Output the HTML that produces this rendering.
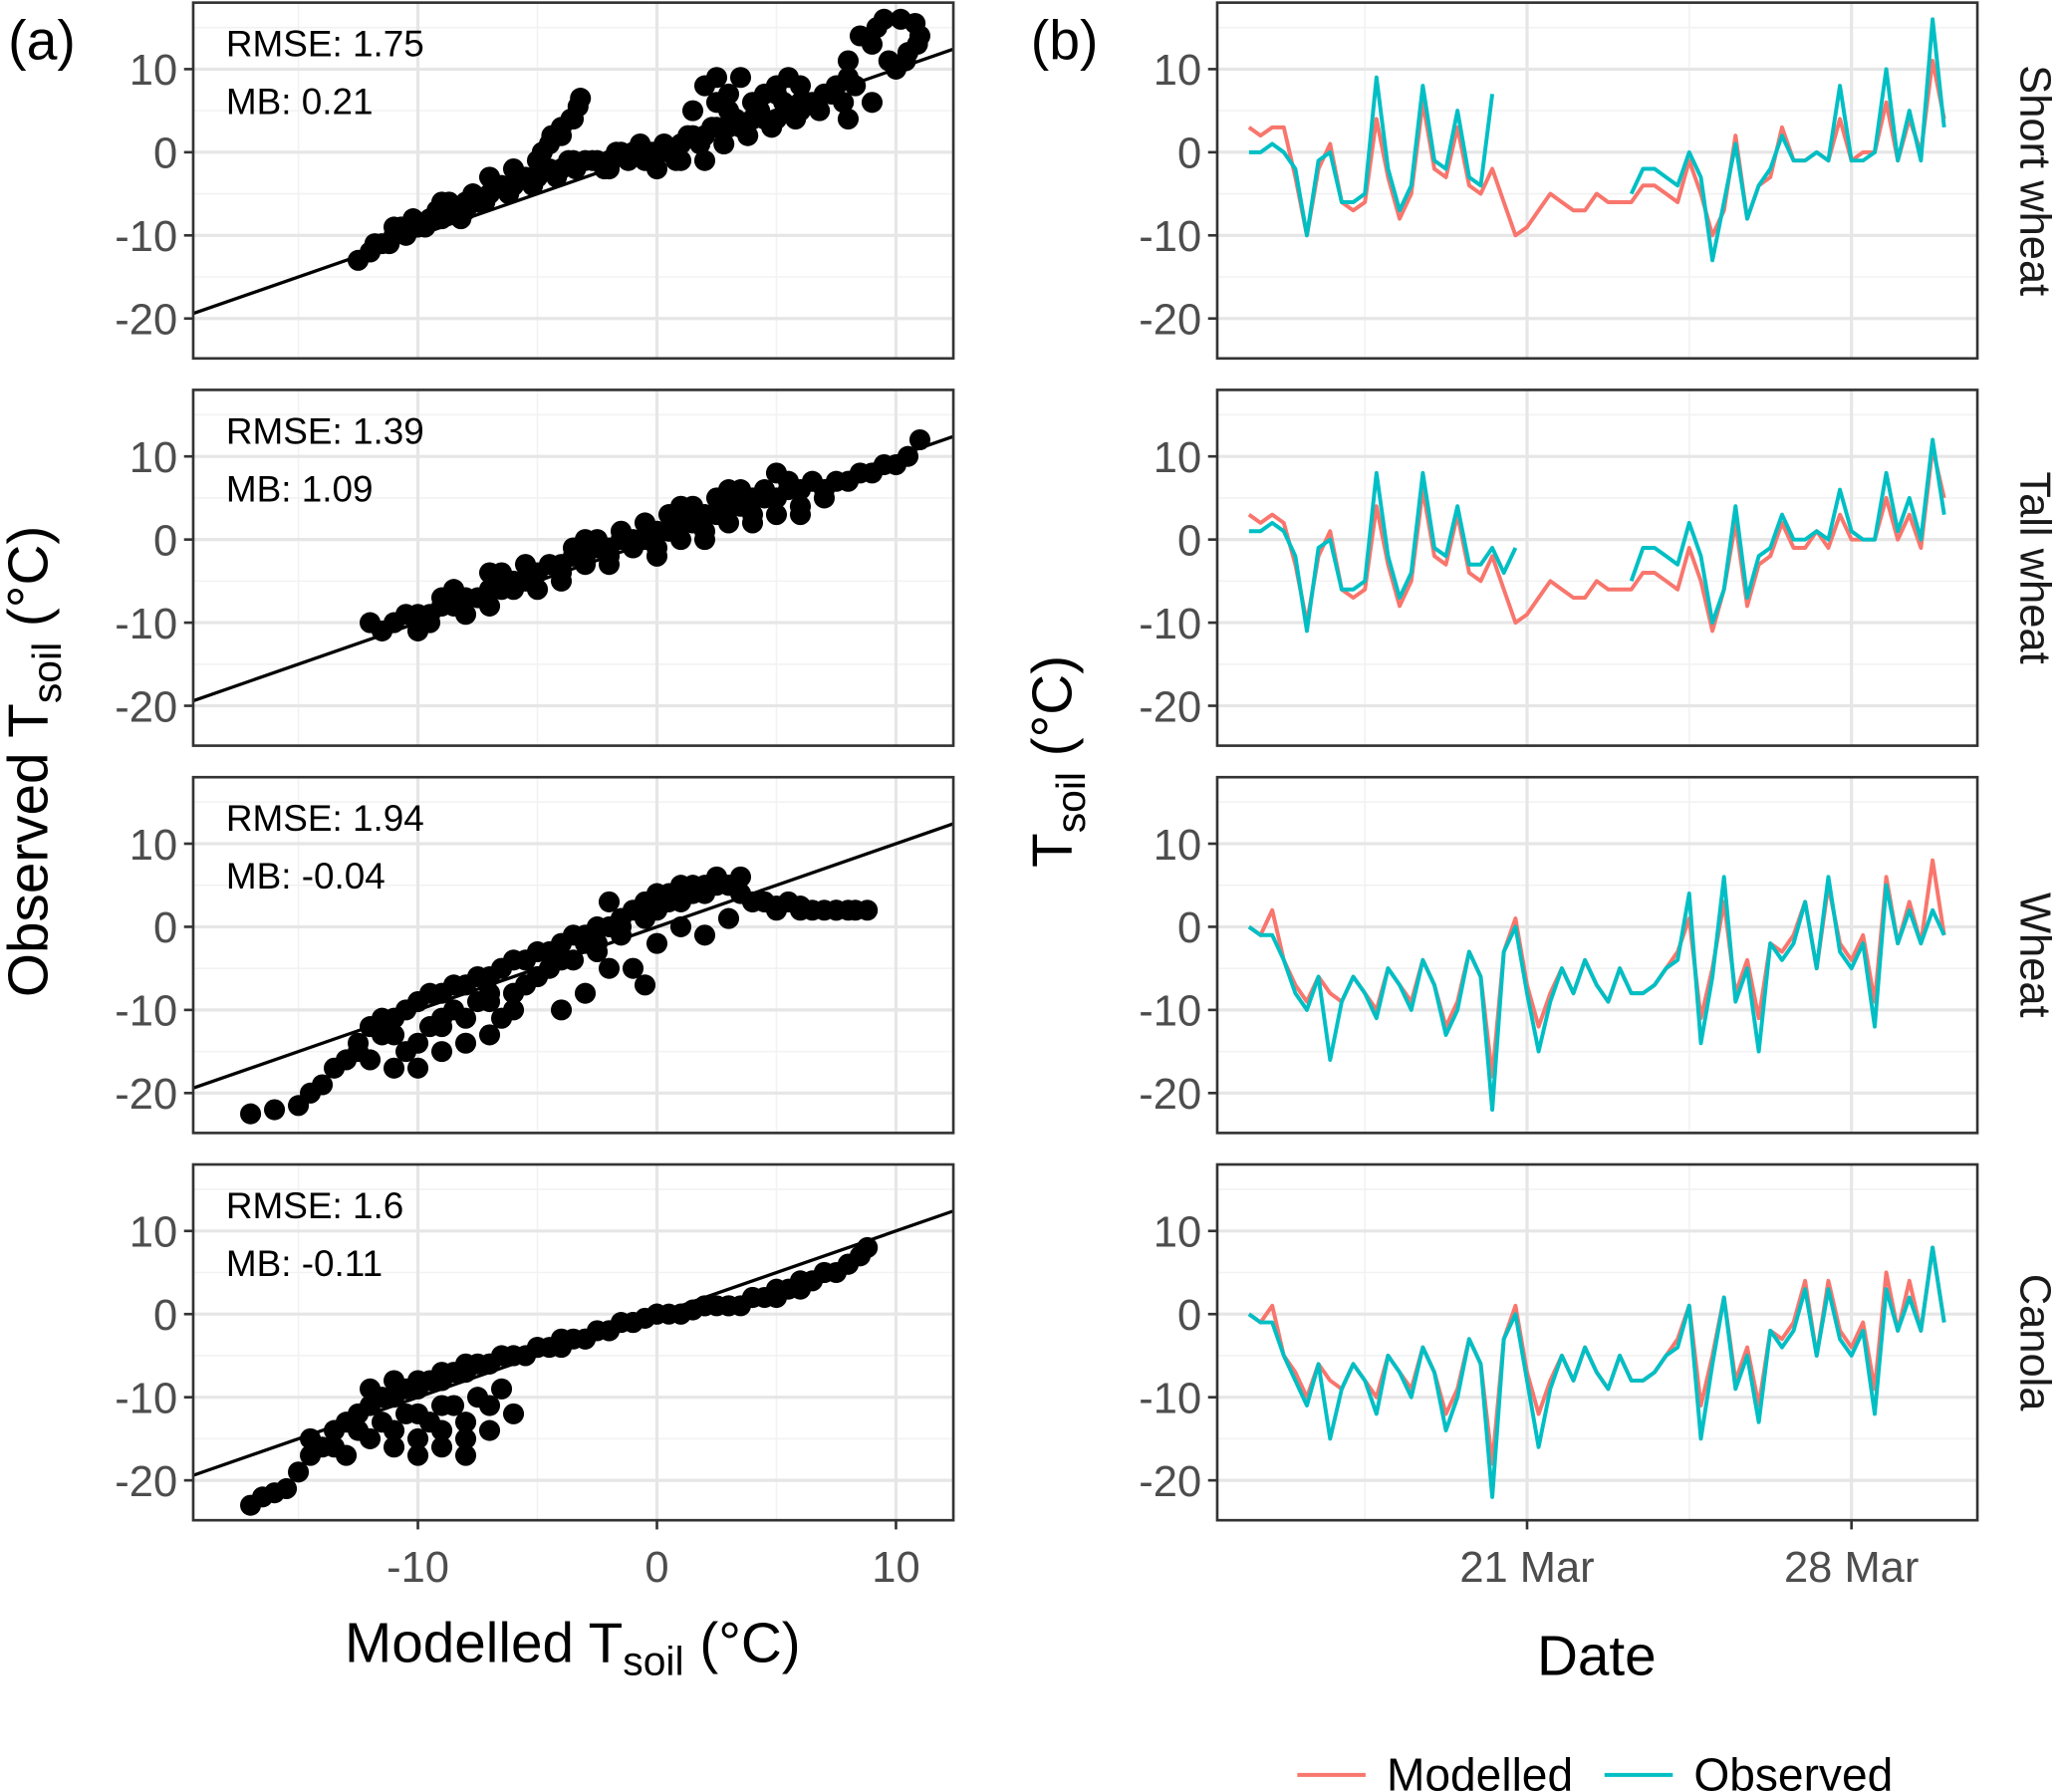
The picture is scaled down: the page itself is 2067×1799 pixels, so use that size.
<!DOCTYPE html>
<html><head><meta charset="utf-8"><style>
html,body{margin:0;padding:0;background:#fff}
svg{display:block}
text{font-family:"Liberation Sans",Arial,sans-serif}
</style></head><body>
<svg id="chart" width="2067" height="1799" viewBox="0 0 1568 1365" xmlns="http://www.w3.org/2000/svg">
<rect width="1568" height="1365" fill="#fff"/>
</svg>
<script>
// ---- data ----
const panelNames = ["Short wheat","Tall wheat","Wheat","Canola"];
const rmseLabels = ["RMSE: 1.75","RMSE: 1.39","RMSE: 1.94","RMSE: 1.6"];
const mbLabels = ["MB: 0.21","MB: 1.09","MB: -0.04","MB: -0.11"];
const yTicks = [10,0,-10,-20];
const xTicksLeft = [-10,0,10];
const dateTickDays = [21,28];
const dateTickLabels = ["21 Mar","28 Mar"];
const startDay = 15, stepDay = 0.25;

const sc1x = [-12.5,-12,-11.5,-11,-10.5,-10,-9.5,-9,-8.5,-8,-7.5,-7,-6.5,-6,-5.5,-5,-4.5,-4,-3.5,-3,-2.5,-2,-1.5,-1,-0.5,0,0.5,1,1.5,2,2.5,3,3.5,4,4.5,5,5.5,6,6.5,7,7.5,8,-11,-9,-8,-7,-6,-5,-4.5,-4,-3.5,-3.2,-2,0,1,2,2.5,3,4,5,6,7,8,9,10,10.5,11,8.5,9.5,10.8,8,1.5,2.5,
 -11.8,-11.2,-10.7,-10.2,-9.7,-9.2,-8.7,-8.2,-7.7,-7.2,-6.7,-6.2,-5.7,-5.2,-4.7,-4.2,-3.7,-3.4,-4.8,-4.4,-4,-3.6,-3.3,-2.7,-2.2,-1.7,-1.2,-0.7,-0.2,0.3,0.8,1.3,1.8,2.3,2.8,3.3,3.8,4.3,4.8,5.3,5.8,6.3,6.8,7.3,7.8,8.3,3,4,5,6,2,3.5,4.5,5.5,9,9.2,10.2,10.9,10.4,9.7];
const sc1y = [-13,-12,-11,-10,-10,-9,-8,-8,-7,-6,-6,-5,-4,-4,-3,-3,-2,-2,-1,-1,-1,-1,0,0,-1,0,0,1,2,2,3,3,3,4,4,4,5,5,6,7,8,9,-9,-6,-7,-3,-2,-1,1,2,4,6.5,-2,-2,-1,-1,6,7,6,8,6,7,4,6,10,12,14,14,16,15.5,11,5,9,
 -11,-11,-9,-8,-9,-7,-6,-8,-5,-6,-4,-5,-3,-4,-2,-3,-1,-2,0,2,3,4,5.5,-1,-2,0,-1,1,0,1,-1,2,1,3,1,4,2,5,3,6,4,6,5,7,6,8,5,4,7,8,8,9,7,9,13,15,16,13,11,11];
const sc2x = [-12,-11,-10,-9.5,-9,-8,-7.5,-7,-6,-5.5,-5,-4.5,-4,-3.5,-3,-2.5,-2,-1.5,-1,-0.5,0,0.5,1,1.5,2,2.5,3,3.5,4,4.5,5,5.5,6,7,8,9,10,10.5,11,-10,-8,-6,-4,-2,0,2,4,6,-9,-7,-3,1,3,5,
 -11.5,-10.5,-8.5,-7,-6.5,-5,-4,-3,-2,-1,0,1,2,3,4,5,6,7,-9.5,-8.5,-6.5,-5.5,-3.5,-2.5,-1.5,-0.5,0.5,1.5,2.5,3.5,4.5,5.5,6.5,7.5,8.5,9.5];
const sc2y = [-10,-10,-9,-9,-8,-7,-7,-6,-5,-5,-4,-3,-3,-2,-2,-1,-1,0,0,0,1,1,2,2,3,3,4,4,5,5,5,6,6,6,7,8,9,10,12,-11,-9,-6,-5,-3,-2,0,2,3,-7,-4,0,4,6,8,
 -11,-9,-8,-8,-6,-6,-4,-3,-2,-1,-1,0,1,2,3,3,4,5,-10,-6,-4,-3,-1,0,1,2,3,4,5,6,6,7,7,7,8,9];
const sc3x = [-17,-16,-15,-14.5,-14,-13.5,-13,-12.5,-12,-11.5,-11,-10.5,-10,-9.5,-9,-8.5,-8,-7.5,-7,-6.5,-6,-5.5,-5,-4.5,-4,-3.5,-3,-2.5,-2,-1.5,-1,-0.5,0,0.5,1,1.5,2,2.5,3,3.5,4,5,6,7,8,8.8,-12,-10,-9,-8,-7,-6,-4,-3,-2,-1,0,1,2,3,4,-11,-9,-7,-5,-3,-2,-0.5,
 -12.5,-11.5,-10.5,-9.5,-8.5,-7.5,-6.5,-5.5,-4.5,-3.5,-2.5,-1.5,-0.5,0.5,1.5,2.5,3.5,4.5,5.5,6.5,7.5,-11,-10,-9,-8,-7,-6,-5,-4,-2.5,-1.5,0,1,2,3,4.5,5,6,7.5,8.3];
const sc3y = [-22.5,-22,-21.5,-20,-19,-17,-16,-15,-12,-11,-11,-10,-9,-8,-8,-7,-7,-6,-6,-5,-4,-4,-3,-3,-2,-1,-1,0,0,1,2,3,4,4,5,5,5,6,5,4,3,2,2,2,2,2,-16,-17,-15,-14,-13,-10,-10,-8,-5,-5,-2,0,-1,1,3,-13,-11,-8,-6,-2,3,-7,
 -14,-13,-15,-12,-10,-9,-11,-7,-5,-4,-2,0,1,3,4,5,6,3,3,2,2,-17,-14,-12,-11,-9,-8,-6,-4,-3,-1,2,3,4,5,3,2.5,2.5,2,2];
const sc4x = [-17,-16.5,-16,-15.5,-15,-14.5,-14,-13.5,-13,-12.5,-12,-11.5,-11,-10.5,-10,-9.5,-9,-8.5,-8,-7.5,-7,-6.5,-6,-5.5,-5,-4.5,-4,-3.5,-3,-2.5,-2,-1.5,-1,-0.5,0,0.5,1,1.5,2,2.5,3,3.5,4,4.5,5,5.5,6,6.5,7,7.5,8,8.5,8.8,-12,-11,-10,-9,-8,-7,-6,-13,-10,-9,-8,-14.5,
 -13.5,-12.5,-11.5,-10.5,-9.5,-8.5,-7.5,-6.5,-11,-10,-9,-8,-7,-12,-11,-10,-9,-8,-7,-6,-5,-4,-3,-2,-1,0,1,2,3,4,5,6,7,8];
const sc4y = [-23,-22,-21.5,-21,-19,-17,-16,-14,-13,-12,-11,-10,-10,-9,-9,-8,-8,-7,-7,-6,-6,-5,-5,-5,-4,-4,-4,-3,-3,-2,-2,-1,-1,-0.5,0,0,0,0.5,1,1,1,1,2,2,2,3,3,4,5,5,6,7,8,-15,-16,-17,-16,-15,-14,-12,-17,-12,-11,-17,-15,
 -16,-14,-13,-12,-13,-11,-10,-9,-14,-15,-14,-13,-11,-9,-8,-8,-7,-6,-6,-5,-4,-3,-3,-2,-1,0,0,1,1,2,3,4,5,6];

const mod1 = [3,2,3,3,-3,-10,-2,1,-6,-7,-6,4,-3,-8,-5,6,-2,-3,3,-4,-5,-2,-6,-10,-9,-7,-5,-6,-7,-7,-5,-6,-6,-6,-4,-4,-5,-6,-1,-5,-10,-7,2,-8,-4,-3,3,-1,-1,0,-1,4,-1,0,0,6,-1,4,0,11,4];
const obs1 = [0,0,1,0,-2,-10,-1,0,-6,-6,-5,9,-2,-7,-4,8,-1,-2,5,-3,-4,7,null,null,null,null,null,null,null,null,null,null,null,-5,-2,-2,-3,-4,0,-3,-13,-6,1,-8,-4,-2,2,-1,-1,0,-1,8,-1,-1,0,10,-1,5,-1,16,3];
const mod2 = [3,2,3,2,-3,-10,-2,1,-6,-7,-6,4,-3,-8,-5,6,-2,-3,3,-4,-5,-2,-6,-10,-9,-7,-5,-6,-7,-7,-5,-6,-6,-6,-4,-4,-5,-6,-1,-5,-11,-6,2,-8,-3,-2,2,-1,-1,1,-1,3,0,0,0,5,0,3,-1,11,5];
const obs2 = [1,1,2,1,-2,-11,-1,0,-6,-6,-5,8,-2,-7,-4,8,-1,-2,4,-3,-3,-1,-4,-1,null,null,null,null,null,null,null,null,null,-5,-1,-1,-2,-3,2,-2,-10,-6,4,-7,-2,-1,3,0,0,1,0,6,1,0,0,8,1,5,0,12,3];
const mod3 = [0,-1,2,-4,-7,-9,-6,-8,-9,-6,-8,-10,-5,-7,-9,-4,-7,-12,-9,-3,-6,-18,-3,1,-7,-12,-8,-5,-8,-4,-7,-9,-5,-8,-8,-7,-5,-3,1,-11,-5,3,-8,-4,-11,-2,-3,-1,3,-5,5,-2,-4,-1,-9,6,-2,3,-2,8,-1];
const obs3 = [0,-1,-1,-4,-8,-10,-6,-16,-9,-6,-8,-11,-5,-7,-10,-4,-7,-13,-10,-3,-6,-22,-3,0,-8,-15,-9,-5,-8,-4,-7,-9,-5,-8,-8,-7,-5,-4,4,-14,-6,6,-9,-5,-15,-2,-4,-2,3,-5,6,-3,-5,-2,-12,5,-2,2,-2,2,-1];
const mod4 = [0,-1,1,-5,-7,-10,-6,-8,-9,-6,-8,-10,-5,-7,-9,-4,-7,-12,-9,-3,-6,-18,-3,1,-7,-12,-8,-5,-8,-4,-7,-9,-5,-8,-8,-7,-5,-3,1,-11,-5,2,-8,-4,-11,-2,-3,-1,4,-5,4,-2,-4,-1,-9,5,-2,4,-2,8,-1];
const obs4 = [0,-1,-1,-5,-8,-11,-6,-15,-9,-6,-8,-12,-5,-7,-10,-4,-7,-14,-10,-3,-6,-22,-3,0,-8,-16,-9,-5,-8,-4,-7,-9,-5,-8,-8,-7,-5,-4,1,-15,-6,2,-9,-5,-13,-2,-4,-2,3,-5,3,-3,-5,-2,-12,3,-2,2,-2,8,-1];

const scatterX = [sc1x,sc2x,sc3x,sc4x];
const scatterY = [sc1y,sc2y,sc3y,sc4y];
const modSeries = [mod1,mod2,mod3,mod4];
const obsSeries = [obs1,obs2,obs3,obs4];

// ---- layout ----
const svg = document.getElementById('chart');
const NS = 'http://www.w3.org/2000/svg';
function el(tag, attrs, parent){const e=document.createElementNS(NS,tag);for(const k in attrs)e.setAttribute(k,attrs[k]);(parent||svg).appendChild(e);return e;}
const panelTops = [2,297,592,887], panelH = 271;
const L = {x0:147,x1:726}, R = {x0:927,x1:1506};
const yMin=-24.8, yMax=18;
function yScale(v,top){return top + (yMax - v)/(yMax-yMin)*panelH;}
const xlMin=-19.4, xlMax=12.4;
function xLeft(v){return L.x0 + (v-xlMin)/(xlMax-xlMin)*(L.x1-L.x0);}
function xDate(d){return 1163 + (d-21)*35.3;}

for(let p=0;p<4;p++){
  const top = panelTops[p], bot = top+panelH;
  const gl = el('g',{});
  
  
  [15,5,-5,-15].forEach(v=>el('line',{x1:L.x0,x2:L.x1,y1:yScale(v,top),y2:yScale(v,top),stroke:'#f2f2f2','stroke-width':1.2},gl));
  [-15,-5,5].forEach(v=>el('line',{x1:xLeft(v),x2:xLeft(v),y1:top,y2:bot,stroke:'#f2f2f2','stroke-width':1.2},gl));
  yTicks.forEach(v=>el('line',{x1:L.x0,x2:L.x1,y1:yScale(v,top),y2:yScale(v,top),stroke:'#e6e6e6','stroke-width':2.4},gl));
  xTicksLeft.forEach(v=>el('line',{x1:xLeft(v),x2:xLeft(v),y1:top,y2:bot,stroke:'#e6e6e6','stroke-width':2.4},gl));
  const xs=scatterX[p], ys=scatterY[p];
  for(let i=0;i<xs.length;i++){
    const c=el('circle',{cx:xLeft(xs[i]),cy:yScale(ys[i],top),r:8,fill:'#000'},gl);
    
    
  }
  const ln=el('line',{x1:L.x0,y1:yScale(xlMin,top),x2:L.x1,y2:yScale(xlMax,top),stroke:'#000','stroke-width':2.5},gl);
  
  
  const t1=el('text',{x:172,y:top+41,'font-size':28,fill:'#000'},gl); t1.textContent=rmseLabels[p];
   
  const t2=el('text',{x:172,y:top+85,'font-size':28,fill:'#000'},gl); t2.textContent=mbLabels[p];
   
  el('rect',{x:L.x0,y:top,width:L.x1-L.x0,height:panelH,fill:'none',stroke:'#333','stroke-width':2},gl);
  yTicks.forEach(v=>{
    el('line',{x1:L.x0-7,x2:L.x0,y1:yScale(v,top),y2:yScale(v,top),stroke:'#333','stroke-width':2},gl);
    const t=el('text',{x:L.x0-12,y:yScale(v,top)+12,'font-size':33,fill:'#4d4d4d','text-anchor':'end'},gl);t.textContent=v;
     
  });

  const gr = el('g',{});
  
  
  [15,5,-5,-15].forEach(v=>el('line',{x1:R.x0,x2:R.x1,y1:yScale(v,top),y2:yScale(v,top),stroke:'#f2f2f2','stroke-width':1.2},gr));
  [17.5,24.5].forEach(d=>el('line',{x1:xDate(d),x2:xDate(d),y1:top,y2:bot,stroke:'#f2f2f2','stroke-width':1.2},gr));
  yTicks.forEach(v=>el('line',{x1:R.x0,x2:R.x1,y1:yScale(v,top),y2:yScale(v,top),stroke:'#e6e6e6','stroke-width':2.4},gr));
  dateTickDays.forEach(d=>el('line',{x1:xDate(d),x2:xDate(d),y1:top,y2:bot,stroke:'#e6e6e6','stroke-width':2.4},gr));
  function path(arr){let d='',pen=false;arr.forEach((v,i)=>{if(v===null){pen=false;return;}const x=xDate(startDay+i*stepDay),y=yScale(v,top);d+=(pen?'L':'M')+x.toFixed(1)+' '+y.toFixed(1);pen=true;});return d;}
  const pm=el('path',{d:path(modSeries[p]),fill:'none',stroke:'#F8766D','stroke-width':3,'stroke-linejoin':'round'},gr);
   
  const po=el('path',{d:path(obsSeries[p]),fill:'none',stroke:'#00BFC4','stroke-width':3,'stroke-linejoin':'round'},gr);
   
  el('rect',{x:R.x0,y:top,width:R.x1-R.x0,height:panelH,fill:'none',stroke:'#333','stroke-width':2},gr);
  yTicks.forEach(v=>{
    el('line',{x1:R.x0-7,x2:R.x0,y1:yScale(v,top),y2:yScale(v,top),stroke:'#333','stroke-width':2},gr);
    const t=el('text',{x:R.x0-12,y:yScale(v,top)+12,'font-size':33,fill:'#4d4d4d','text-anchor':'end'},gr);t.textContent=v;
     
  });
  const st=el('text',{transform:`translate(1539,${top+panelH/2}) rotate(90)`,'font-size':33,fill:'#1a1a1a','text-anchor':'middle'},gr);
  st.textContent=panelNames[p];
   
}
const bot4 = panelTops[3]+panelH;
xTicksLeft.forEach(v=>{
  el('line',{x1:xLeft(v),x2:xLeft(v),y1:bot4,y2:bot4+7,stroke:'#333','stroke-width':2});
  const t=el('text',{x:xLeft(v),y:bot4+47,'font-size':33,fill:'#4d4d4d','text-anchor':'middle'});t.textContent=v;
   
});
dateTickDays.forEach((d,i)=>{
  el('line',{x1:xDate(d),x2:xDate(d),y1:bot4,y2:bot4+7,stroke:'#333','stroke-width':2});
  const t=el('text',{x:xDate(d),y:bot4+47,'font-size':33,fill:'#4d4d4d','text-anchor':'middle'});t.textContent=dateTickLabels[i];
   
});
</script>
<script>
(function(){
const svg=document.getElementById('chart');
svg.insertAdjacentHTML('beforeend',`
<text x="6" y="45" font-size="42">(a)</text>
<text x="785" y="45" font-size="42">(b)</text>
<text transform="translate(36,580) rotate(-90)" font-size="43" text-anchor="middle">Observed T<tspan font-size="31" dy="10">soil</tspan><tspan dy="-10"> (°C)</tspan></text>
<text transform="translate(816,580) rotate(-90)" font-size="43" text-anchor="middle">T<tspan font-size="31" dy="10">soil</tspan><tspan dy="-10"> (°C)</tspan></text>
<text x="436" y="1266" font-size="43" text-anchor="middle">Modelled T<tspan font-size="31" dy="10">soil</tspan><tspan dy="-10"> (°C)</tspan></text>
<text x="1216" y="1276" font-size="43" text-anchor="middle">Date</text>
<g>
<line x1="988" y1="1352" x2="1040" y2="1352" stroke="#F8766D" stroke-width="3"/>
<text x="1056" y="1364" font-size="35">Modelled</text>
<line x1="1222" y1="1352" x2="1274" y2="1352" stroke="#00BFC4" stroke-width="3"/>
<text x="1290" y="1364" font-size="35">Observed</text>
</g>`);
})();
</script>
</body></html>
